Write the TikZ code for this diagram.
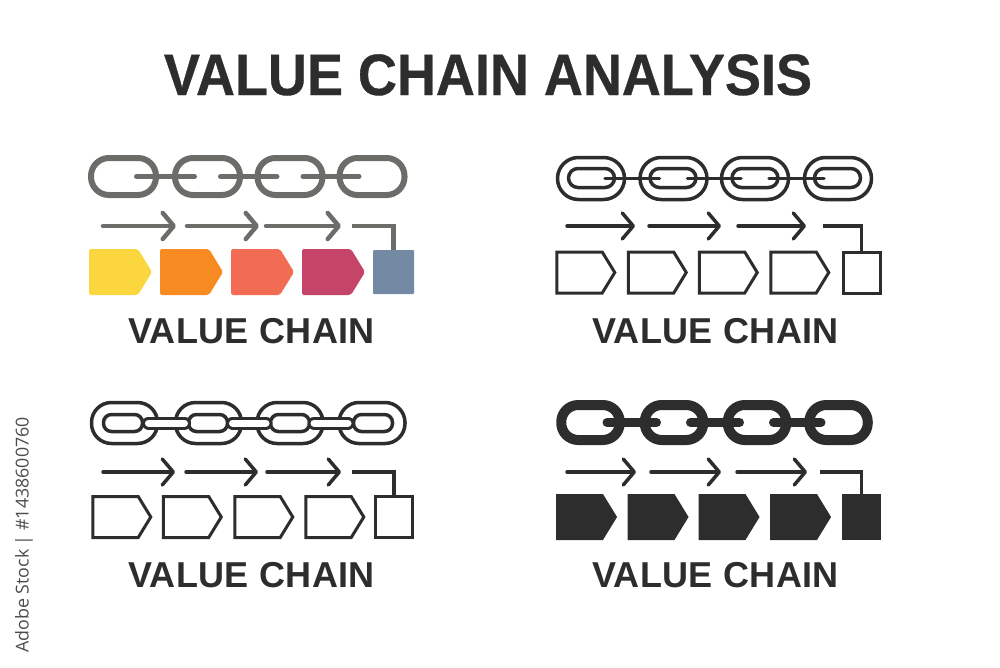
\documentclass[tikz,border=0pt]{standalone}
\usepackage{fontspec}
\setmainfont{Liberation Sans}
\newfontfamily\capfont[LetterSpace=1,Ligatures=NoCommon]{Liberation Sans}
\newfontfamily\titlefont[FakeBold=0.6]{Liberation Sans Bold}
\newfontfamily\sidefont{Open Sans}
\usepackage{xcolor}
\usetikzlibrary{arrows.meta,shapes.symbols}
\definecolor{inkdark}{HTML}{2D2D2D}
\definecolor{linkgray}{HTML}{6C6C69}
\definecolor{stepyellow}{HTML}{FBD63F}
\definecolor{steporange}{HTML}{F78B22}
\definecolor{stepcoral}{HTML}{F26B53}
\definecolor{stepcrimson}{HTML}{C44568}
\definecolor{stepblue}{HTML}{7489A3}
\tikzset{
    chainlink/.style={draw=inkdark, rectangle, inner sep=0pt, line width=3.5pt},
    stepbox/.style={signal, signal to=east, signal pointer angle=117, inner sep=0pt,
                    minimum width=60pt, minimum height=43pt, line join=miter},
    endbox/.style={rectangle, inner sep=0pt, minimum height=43pt},
    flowline/.style={draw=inkdark, line width=3.5pt, line cap=round, line join=miter},
    flowarrow/.style={flowline, -{Straight Barb[length=11pt,width=26pt,round]}},
    captext/.style={text=inkdark, anchor=base, font=\capfont\bfseries\fontsize{36}{40}\selectfont},
}
\begin{document}
\begin{tikzpicture}[x=1pt,y=-1pt]
    \useasboundingbox (0,0) rectangle (1000,667);
    \node[text=inkdark, anchor=base, font=\titlefont\fontsize{54}{60}\selectfont] (title) at (488,95) {\scalebox{1}[1.08]{VALUE CHAIN ANALYSIS}};
    \node[text=inkdark!85, rotate=90, font=\sidefont\fontsize{17.8}{20}\selectfont] (stock) at (24,535) {Adobe Stock | \#1438600760};

    % colour panel
    \tikzset{graylink/.style={chainlink, draw=linkgray, line width=6pt, minimum width=65pt, minimum height=37pt, rounded corners=18pt},
             graystep/.style={stepbox, rounded corners=2pt, minimum width=63pt, minimum height=46pt}}
    \node[graylink] (cl1) at (123.5,176.5) {};
    \node[graylink] (cl2) at (207.5,176.5) {};
    \node[graylink] (cl3) at (290,176.5) {};
    \node[graylink] (cl4) at (372,176.5) {};
    \draw[linkgray, line width=5pt, line cap=round] ([xshift=13pt]cl1.center) -- ([xshift=-13pt]cl2.center);
    \draw[linkgray, line width=5pt, line cap=round] ([xshift=13pt]cl2.center) -- ([xshift=-13pt]cl3.center);
    \draw[linkgray, line width=5pt, line cap=round] ([xshift=13pt]cl3.center) -- ([xshift=-13pt]cl4.center);
    \coordinate (ca1) at (103,226); \coordinate (cb1) at (176,226);
    \coordinate (ca2) at (187,226); \coordinate (cb2) at (259,226);
    \coordinate (ca3) at (266,226); \coordinate (cb3) at (341,226);
    \coordinate (ca4) at (352,226);
    \draw[flowarrow, draw=linkgray, line width=4.5pt] (ca1) -- (cb1);
    \draw[flowarrow, draw=linkgray, line width=4.5pt] (ca2) -- (cb2);
    \draw[flowarrow, draw=linkgray, line width=4.5pt] (ca3) -- (cb3);
    \node[graystep, fill=stepyellow] (cs1) at (113.5,272) {};
    \node[graystep, fill=steporange] (cs2) at (184.5,272) {};
    \node[graystep, fill=stepcoral] (cs3) at (255.5,272) {};
    \node[graystep, fill=stepcrimson] (cs4) at (326.5,272) {};
    \node[endbox, fill=stepblue, rounded corners=1pt, minimum width=41pt, minimum height=44pt] (cs5) at (393.5,272) {};
    \draw[flowline, draw=linkgray, line width=4.5pt, line cap=butt] (ca4) -| (cs5.north);
    \node[captext] (ccap) at (251.5,343) {VALUE CHAIN};

    % outline panel
    \tikzset{outlink/.style={chainlink, minimum width=67pt, minimum height=42pt, rounded corners=21pt},
             outhole/.style={chainlink, minimum width=46pt, minimum height=19pt, rounded corners=9.5pt},
             thinstep/.style={stepbox, draw=inkdark, line width=3pt, minimum width=58pt, minimum height=41pt},
             thinend/.style={endbox, draw=inkdark, line width=3pt, minimum width=37pt, minimum height=41pt}}
    \node[outlink] (ol1) at (591,178.5) {};
    \node[outlink] (ol2) at (673.5,178.5) {};
    \node[outlink] (ol3) at (755,178.5) {};
    \node[outlink] (ol4) at (838,178.5) {};
    \node[outhole] (oh1) at (591.5,178) {};
    \node[outhole] (oh2) at (673,178) {};
    \node[outhole] (oh3) at (755,178) {};
    \node[outhole] (oh4) at (837.5,178) {};
    \draw[inkdark, line width=3.5pt, line cap=round] ([xshift=14pt]ol1.center) -- ([xshift=-14pt]ol2.center);
    \draw[inkdark, line width=3.5pt, line cap=round] ([xshift=14pt]ol2.center) -- ([xshift=-14pt]ol3.center);
    \draw[inkdark, line width=3.5pt, line cap=round] ([xshift=14pt]ol3.center) -- ([xshift=-14pt]ol4.center);
    \coordinate (oa1) at (567,226); \coordinate (ob1) at (635,226);
    \coordinate (oa2) at (649,226); \coordinate (ob2) at (721,226);
    \coordinate (oa3) at (738,226); \coordinate (ob3) at (806,226);
    \coordinate (oa4) at (823,226);
    \draw[flowarrow] (oa1) -- (ob1);
    \draw[flowarrow] (oa2) -- (ob2);
    \draw[flowarrow] (oa3) -- (ob3);
    \node[thinstep] (os1) at (579.5,272.5) {};
    \node[thinstep] (os2) at (651,272.5) {};
    \node[thinstep] (os3) at (722,272.5) {};
    \node[thinstep] (os4) at (793.5,272.5) {};
    \node[thinend] (os5) at (861.5,272.5) {};
    \draw[flowline, line cap=butt] (oa4) -| (os5.north);
    \node[captext] (ocap) at (715.5,343) {VALUE CHAIN};

    % hollow panel
    \tikzset{holelink/.style={chainlink, minimum width=66pt, minimum height=41pt, rounded corners=20pt},
             holehole/.style={chainlink, minimum width=39pt, minimum height=17pt, rounded corners=8pt},
             hollowbar/.style={draw=inkdark, line width=3pt, double=white, double distance=7pt, line cap=round}}
    \node[holelink] (hl1) at (124.5,423) {};
    \node[holelink] (hl2) at (208.5,423) {};
    \node[holelink] (hl3) at (290,423) {};
    \node[holelink] (hl4) at (372,423) {};
    \node[holehole] (hh1) at (123,423) {};
    \node[holehole] (hh2) at (208,423) {};
    \node[holehole] (hh3) at (290,423) {};
    \node[holehole] (hh4) at (373,423) {};
    \draw[hollowbar] ([xshift=24pt]hl1.center) -- ([xshift=-24pt]hl2.center);
    \draw[hollowbar] ([xshift=24pt]hl2.center) -- ([xshift=-24pt]hl3.center);
    \draw[hollowbar] ([xshift=24pt]hl3.center) -- ([xshift=-24pt]hl4.center);
    \coordinate (ha1) at (103,472); \coordinate (hb1) at (175,472);
    \coordinate (ha2) at (186,472); \coordinate (hb2) at (258,472);
    \coordinate (ha3) at (267,472); \coordinate (hb3) at (341,472);
    \coordinate (ha4) at (352,472);
    \draw[flowarrow] (ha1) -- (hb1);
    \draw[flowarrow] (ha2) -- (hb2);
    \draw[flowarrow] (ha3) -- (hb3);
    \node[thinstep] (hs1) at (115.5,517) {};
    \node[thinstep] (hs2) at (186,517) {};
    \node[thinstep] (hs3) at (257.5,517) {};
    \node[thinstep] (hs4) at (328.5,517) {};
    \node[thinend] (hs5) at (394,517) {};
    \draw[flowline, line cap=butt] (ha4) -| (hs5.north);
    \node[captext] (hcap) at (251.5,587) {VALUE CHAIN};

    % solid panel
    \tikzset{solidlink/.style={chainlink, line width=10pt, minimum width=58.5pt, minimum height=35pt, rounded corners=17pt},
             solidstep/.style={stepbox, fill=inkdark, minimum width=61pt, minimum height=46pt},
             solidend/.style={endbox, fill=inkdark, minimum width=39pt, minimum height=46pt}}
    \node[solidlink] (sl1) at (590.5,422.5) {};
    \node[solidlink] (sl2) at (674,422.5) {};
    \node[solidlink] (sl3) at (757,422.5) {};
    \node[solidlink] (sl4) at (838.5,422.5) {};
    \draw[inkdark, line width=9pt, line cap=round] ([xshift=16.5pt]sl1.center) -- ([xshift=-17.5pt]sl2.center);
    \draw[inkdark, line width=9pt, line cap=round] ([xshift=16.5pt]sl2.center) -- ([xshift=-17.5pt]sl3.center);
    \draw[inkdark, line width=9pt, line cap=round] ([xshift=16.5pt]sl3.center) -- ([xshift=-17.5pt]sl4.center);
    \coordinate (sa1) at (567,472); \coordinate (sb1) at (636,472);
    \coordinate (sa2) at (651,472); \coordinate (sb2) at (721,472);
    \coordinate (sa3) at (737,472); \coordinate (sb3) at (807,472);
    \coordinate (sa4) at (820,472);
    \draw[flowarrow] (sa1) -- (sb1);
    \draw[flowarrow] (sa2) -- (sb2);
    \draw[flowarrow] (sa3) -- (sb3);
    \node[solidstep] (ss1) at (579.5,517) {};
    \node[solidstep] (ss2) at (651,517) {};
    \node[solidstep] (ss3) at (722,517) {};
    \node[solidstep] (ss4) at (793.5,517) {};
    \node[solidend] (ss5) at (861.5,517) {};
    \draw[flowline, line cap=butt] (sa4) -| (ss5.north);
    \node[captext] (scap) at (715.5,587) {VALUE CHAIN};
\end{tikzpicture}
\end{document}
